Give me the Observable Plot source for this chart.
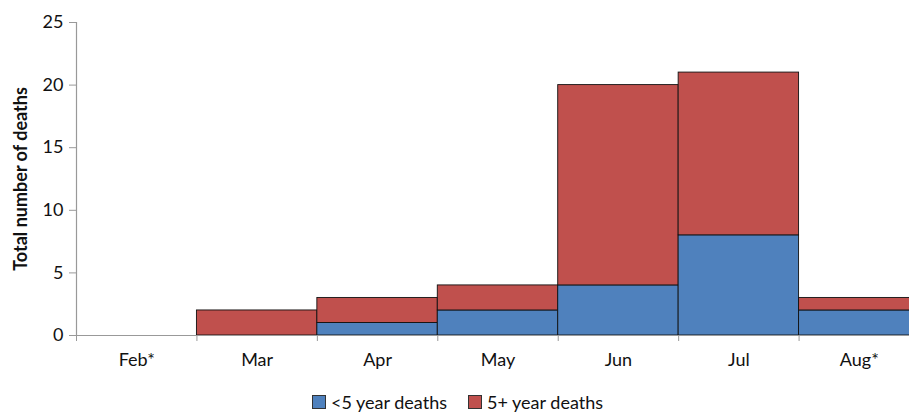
<!DOCTYPE html>
<html><head>
<meta charset="utf-8">
<script src="https://cdn.jsdelivr.net/npm/d3@7"></script>
<script src="https://cdn.jsdelivr.net/npm/@observablehq/plot@0.6"></script>
<style>
body{margin:0;background:#fff;font-family:Lato,"Open Sans",sans-serif;overflow:hidden}
#legend{display:flex;justify-content:center;gap:21px;margin-top:16px;padding-left:6px;font-size:18px;line-height:22px;color:#111}
#legend span.item{display:flex;align-items:center;gap:5px}
#legend i{display:inline-block;width:12px;height:12px;border:1px solid #333}
</style>
</head><body><div id="chart"></div><div id="legend"></div><script>
const months = ["Feb*","Mar","Apr","May","Jun","Jul","Aug*"];
const under5 = [0,0,1,2,4,8,2];
const over5 = [0,2,2,2,16,13,1];
const series = ["<5 year deaths","5+ year deaths"];
const colors = ["#4F81BD","#C0504D"];
const yTicks = [0,5,10,15,20,25];

const rows = [];
months.forEach((m,i)=>{
  let base = 0;
  [under5[i], over5[i]].forEach((v,k)=>{
    if (v > 0) rows.push({x1:i, x2:i+1, y1:base, y2:base+v, group:series[k]});
    base += v;
  });
});

const plot = Plot.plot({
  width: 909, height: 375,
  marginLeft: 76, marginRight: 0, marginTop: 22, marginBottom: 40,
  style: {fontFamily: "Lato, 'Open Sans', sans-serif", fontSize: "18px", color: "#111", overflow: "visible"},
  x: {domain: [0, months.length], range: [76, 76 + 120.43*months.length]},
  y: {domain: [0, 25], range: [335, 22]},
  color: {domain: series, range: colors},
  marks: [
    Plot.rectY(rows, {x1:"x1", x2:"x2", y1:"y1", y2:"y2", fill:"group", stroke:"#111", strokeWidth:0.9}),
    Plot.ruleY([0], {x1:0, x2:months.length, stroke:"#999", strokeWidth:1.2}),
    Plot.ruleX([0], {y1:0, y2:25, stroke:"#999", strokeWidth:1.2}),
    Plot.axisY({ticks: yTicks, tickSize: 7, tickPadding: 6, stroke:"#999", label: null, fontSize: 18}),
    Plot.axisX({ticks: d3.range(0, months.length+1), tickSize: 6, tickFormat: () => "", stroke:"#999", label:null}),
    Plot.axisX({ticks: months.map((_,i)=>i+0.5), tickSize: 0, tickPadding: 18, tickFormat: d => months[Math.floor(d)], label:null, fontSize: 18}),
    Plot.text(["Total number of deaths"], {frameAnchor:"left", dx:-55, rotate:-90, textAnchor:"middle", fontWeight:"bold", fontSize:18, fill:"#111"})
  ]
});
document.getElementById("chart").appendChild(plot);
const lg = document.getElementById("legend");
series.forEach((s,k)=>{
  const it = document.createElement("span"); it.className="item";
  it.innerHTML = `<i style="background:${colors[k]}"></i>${s.replace("<","&lt;")}`;
  lg.appendChild(it);
});
</script></body></html>
